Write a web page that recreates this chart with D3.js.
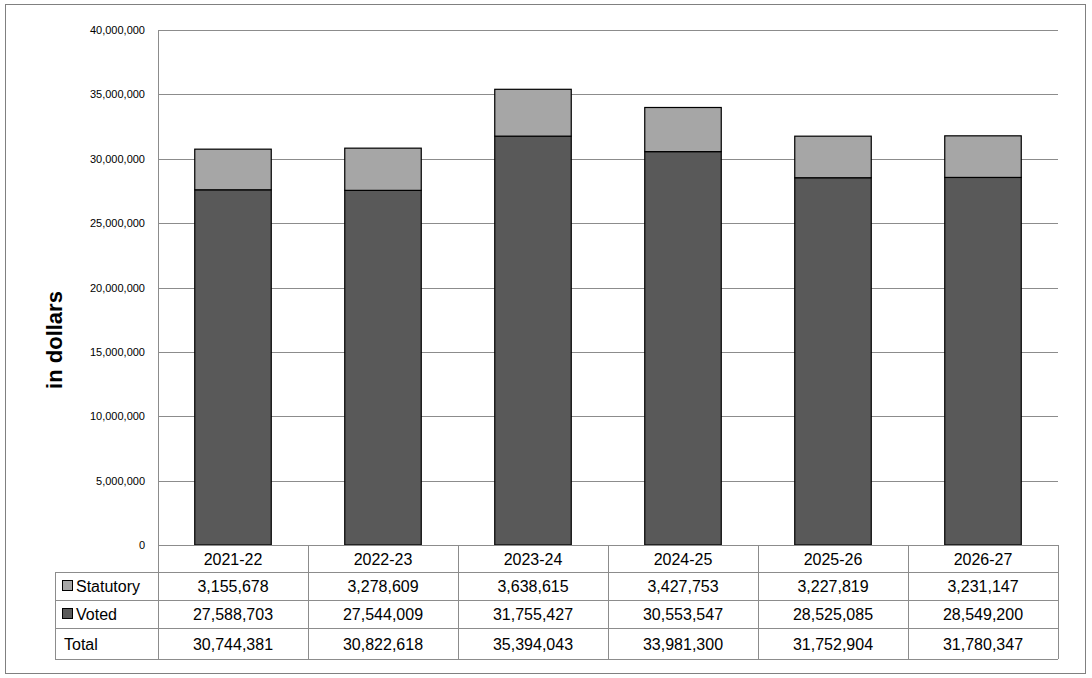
<!DOCTYPE html>
<html><head><meta charset="utf-8">
<script src="https://cdn.jsdelivr.net/npm/d3@7"></script>
<style>body{margin:0;background:#fff}text{font-family:Arial,"Liberation Sans",sans-serif}</style>
</head><body><svg id="c" width="1092" height="678"></svg>
<script>
var years = ["2021-22","2022-23","2023-24","2024-25","2025-26","2026-27"],
    voted = [27588703,27544009,31755427,30553547,28525085,28549200],
    statutory = [3155678,3278609,3638615,3427753,3227819,3231147],
    totals = [30744381,30822618,35394043,33981300,31752904,31780347],
    yTicks = [0,5e6,10e6,15e6,20e6,25e6,30e6,35e6,40e6];

var svg = d3.select("#c"),
    fmt = d3.format(",");

svg.append("rect").attr("x",5.5).attr("y",4.5).attr("width",1080).attr("height",669)
  .attr("fill","none").attr("stroke","#808080");

var x = d3.scaleBand().domain(years).range([158,1058]).paddingInner(0.49).paddingOuter(0.245),
    cols = d3.scaleBand().domain(years).range([158,1058]),
    y = d3.scaleLinear().domain([0,40e6]).range([545,30]);

// grid
svg.append("g").selectAll("line").data(yTicks).join("line")
  .attr("x1",158).attr("x2",1058).attr("y1",d=>Math.round(y(d))+.5).attr("y2",d=>Math.round(y(d))+.5)
  .attr("stroke","#8c8c8c");
svg.append("line").attr("x1",158.5).attr("x2",158.5).attr("y1",30).attr("y2",545).attr("stroke","#8c8c8c");

svg.append("g").selectAll("text").data(yTicks).join("text")
  .attr("x",145).attr("y",d=>y(d)+4).attr("text-anchor","end").attr("font-size",11)
  .text(d=>d===0?"0":fmt(d));

svg.append("text").attr("transform","translate(62,340) rotate(-90)").attr("text-anchor","middle")
  .attr("font-size",22).attr("font-weight","bold").text("in dollars");

// bars
var g = svg.append("g").attr("stroke","#000").attr("stroke-width",1.2);
g.selectAll(".v").data(years).join("rect").attr("class","v")
  .attr("x",d=>x(d)).attr("width",x.bandwidth())
  .attr("y",(d,i)=>y(voted[i])).attr("height",(d,i)=>y(0)-y(voted[i])).attr("fill","#595959");
g.selectAll(".s").data(years).join("rect").attr("class","s")
  .attr("x",d=>x(d)).attr("width",x.bandwidth())
  .attr("y",(d,i)=>y(voted[i]+statutory[i])).attr("height",(d,i)=>y(voted[i])-y(voted[i]+statutory[i])).attr("fill","#a6a6a6");

// data table
var rowY = [545,572,600,628,659],
    rows = [["Statutory",statutory,"#a6a6a6"],["Voted",voted,"#595959"],["Total",totals,null]],
    t = svg.append("g").attr("stroke","#8c8c8c").attr("fill","none");
rowY.forEach(function(ry,i){
  t.append("line").attr("x1",i===0?158:55).attr("x2",1058).attr("y1",ry+.5).attr("y2",ry+.5);
});
cols.domain().forEach(function(c){
  t.append("line").attr("x1",Math.round(cols(c))+.5).attr("x2",Math.round(cols(c))+.5).attr("y1",545).attr("y2",659);
});
t.append("line").attr("x1",1058.5).attr("x2",1058.5).attr("y1",545).attr("y2",659);
t.append("line").attr("x1",55.5).attr("x2",55.5).attr("y1",572).attr("y2",659);

svg.append("g").selectAll("text").data(years).join("text")
  .attr("x",d=>cols(d)+cols.bandwidth()/2).attr("y",565).attr("text-anchor","middle")
  .attr("font-size",16).text(d=>d);

rows.forEach(function(r,i){
  var cy = (rowY[i+1]+rowY[i+2])/2 + 6, lx = 62;
  if (r[2]) {
    svg.append("rect").attr("x",62.5).attr("y",cy-11.5).attr("width",10).attr("height",10)
      .attr("fill",r[2]).attr("stroke","#000");
    lx = 76;
  } else lx = 64;
  svg.append("text").attr("x",lx).attr("y",cy).attr("font-size",16).text(r[0]);
  svg.append("g").selectAll("text").data(r[1]).join("text")
    .attr("x",(d,j)=>cols(years[j])+cols.bandwidth()/2).attr("y",cy).attr("text-anchor","middle")
    .attr("font-size",16).text(d=>fmt(d));
});
</script></body></html>
